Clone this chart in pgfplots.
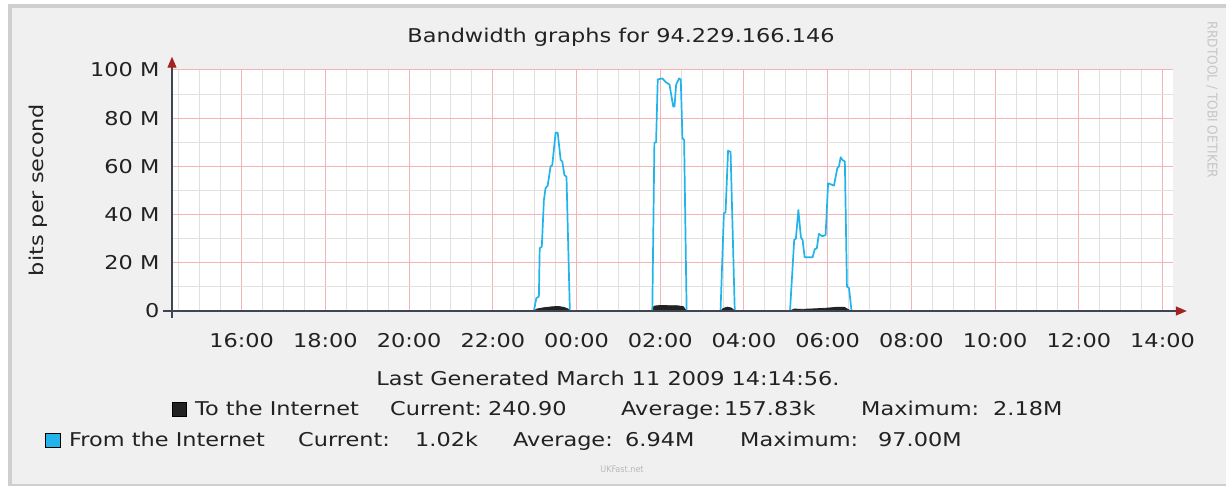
\documentclass[border=0pt]{standalone}
\usepackage{pgfplots}
\pgfplotsset{compat=1.18}
\usepackage{fontspec}
\setmainfont{DejaVu Sans}[FakeStretch=1.18]
\newfontfamily\condf{DejaVu Sans Condensed}
\usetikzlibrary{arrows.meta}
\definecolor{bgc}{HTML}{F0F0F0}
\definecolor{brd}{HTML}{CFCFCF}
\definecolor{majg}{HTML}{F2B4B4}
\definecolor{ming}{HTML}{E0E0E0}
\definecolor{fromc}{HTML}{20B4EA}
\definecolor{toc}{HTML}{222222}
\definecolor{axc}{HTML}{3F4552}
\definecolor{arrc}{HTML}{A42222}
\definecolor{txt}{HTML}{222222}
\newcommand{\lf}{\fontsize{19}{21}\selectfont}
\begin{document}
\begin{tikzpicture}
\useasboundingbox (0,0) rectangle (1226pt,486pt);
\fill[white] (0,0) rectangle (1226pt,486pt);
\fill[brd] (8pt,0) rectangle (1226pt,482pt);
\fill[bgc] (12pt,2pt) rectangle (1226pt,478pt);
\begin{axis}[
  at={(172pt,175pt)}, anchor=south west,
  scale only axis, width=1001pt, height=241pt,
  xmin=14.335, xmax=38.25, ymin=0, ymax=100,
  axis background/.style={fill=white},
  axis line style={draw=none},
  clip=false,
  xtick={16,18,...,38},
  xticklabels={16:00,18:00,20:00,22:00,00:00,02:00,04:00,06:00,08:00,10:00,12:00,14:00},
  minor xtick={14.5,15,...,38},
  ytick={0,20,...,100},
  yticklabels={0,20 M,40 M,60 M,80 M,100 M},
  minor ytick={10,30,50,70,90},
  grid=both,
  major grid style={majg, line width=1pt},
  minor grid style={ming, line width=1pt},
  major tick length=0pt, minor tick length=0pt,
  tick style={draw=none},
  ticklabel style={font=\lf, text=txt},
  xticklabel style={yshift=-19pt},
  yticklabel style={xshift=-9pt},
]
% To the Internet (area)
\addplot[fill=toc, draw=toc, line width=0.8pt] coordinates {
(14.335,0) (22.98,0) (23.05,0.8) (23.2,1.3) (23.4,1.7) (23.55,1.9) (23.7,1.5) (23.8,0.8) (23.84,0)
(25.81,0) (25.85,2.0) (26.0,2.3) (26.2,2.2) (26.4,2.18) (26.55,1.8) (26.62,0)
(27.44,0) (27.5,1.0) (27.6,1.6) (27.7,1.2) (27.78,0)
(29.1,0) (29.2,0.8) (29.4,0.7) (29.7,0.9) (30.0,1.2) (30.2,1.5) (30.4,1.5) (30.5,0.5) (30.57,0)
(38.25,0)} \closedcycle;
% From the Internet (line)
\addplot[fromc, line width=1.7pt, line join=round] coordinates {
(14.335,0) (22.98,0) (23.04,5.3) (23.10,6) (23.12,26) (23.17,26.7) (23.22,46) (23.26,51) (23.31,52)
(23.38,60) (23.42,60.5) (23.50,74) (23.55,74) (23.62,62.7) (23.66,62) (23.71,56.4) (23.76,55.7) (23.84,0)
(25.81,0) (25.86,69.8) (25.90,70) (25.94,96.1) (26.05,96.5) (26.13,95) (26.22,94) (26.31,84.8) (26.34,84.8)
(26.38,94) (26.45,96.5) (26.49,96) (26.53,71.6) (26.57,71) (26.63,0)
(27.44,0) (27.52,40.5) (27.56,41) (27.62,66.5) (27.68,66) (27.78,0)
(29.10,0) (29.20,29.5) (29.24,30) (29.30,41.9) (29.36,30.6) (29.40,29.5) (29.45,22.3) (29.64,22.3)
(29.69,25.6) (29.74,26) (29.79,32) (29.87,31) (29.95,31.5) (30.01,53) (30.07,52.6) (30.15,52)
(30.23,59.2) (30.27,60) (30.31,63.8) (30.35,62.7) (30.41,62) (30.46,10.1) (30.51,9.5) (30.57,0)
(38.25,0)};
% axis lines
\draw[axc, line width=1.2pt, -{Triangle[length=11pt,width=9pt,color=arrc]}] (axis cs:14.12,0) -- (axis cs:38.58,0);
\draw[axc, line width=1.2pt, -{Triangle[length=11pt,width=9pt,color=arrc]}] (axis cs:14.335,-2.9) -- (axis cs:14.335,105.5);
\end{axis}
% texts
\node[text=txt, font=\lf] at (621pt,449pt) {Bandwidth graphs for 94.229.166.146};
\node[text=txt, font=\lf, rotate=90] at (38pt,296pt) {bits per second};
\node[text=txt, font=\lf] at (608pt,108pt) {Last Generated March 11 2009 14:14:56.};
\fill[toc, draw=black] (172pt,70pt) rectangle (186pt,84pt);
\fill[fromc, draw=black] (45pt,39pt) rectangle (60pt,53pt);
\begin{scope}[every node/.style={text=txt, font=\lf, anchor=base west, inner sep=0pt}]
\node at (195pt,70pt) {To the Internet};
\node at (390pt,70pt) {Current:};
\node at (488pt,70pt) {240.90};
\node at (621pt,70pt) {Average:};
\node at (724pt,70pt) {157.83k};
\node at (861pt,70pt) {Maximum:};
\node at (993pt,70pt) {2.18M};
\node at (69pt,39pt) {From the Internet};
\node at (298pt,39pt) {Current:};
\node at (415pt,39pt) {1.02k};
\node at (513pt,39pt) {Average:};
\node at (625pt,39pt) {6.94M};
\node at (740pt,39pt) {Maximum:};
\node at (878pt,39pt) {97.00M};
\end{scope}
\node[text=gray!55, font=\condf\fontsize{9}{10}\selectfont] at (622pt,17pt) {UKFast.net};
\node[text=gray!45, font=\condf\fontsize{13.5}{14}\selectfont, rotate=-90] at (1212pt,386pt) {RRDTOOL / TOBI OETIKER};
\end{tikzpicture}
\end{document}
